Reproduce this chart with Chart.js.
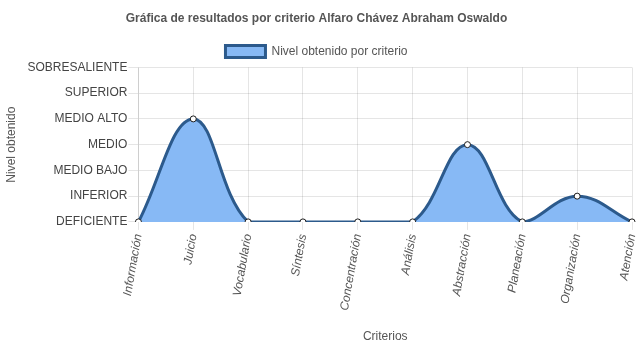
<!DOCTYPE html>
<html>
<head>
<meta charset="utf-8">
<script src="https://cdn.jsdelivr.net/npm/chart.js@4/dist/chart.umd.min.js"></script>
<style>
  html, body { margin: 0; padding: 0; background: #fff; }
  #wrap { width: 637px; height: 348px; }
</style>
</head>
<body>
<div id="wrap"><canvas id="grafica"></canvas></div>
<script>
// Criterios evaluados y nivel obtenido (0 = DEFICIENTE ... 6 = SOBRESALIENTE)
const criterios = ['Información', 'Juicio', 'Vocabulario', 'Síntesis', 'Concentración',
                   'Análisis', 'Abstracción', 'Planeación', 'Organización', 'Atención'];
const niveles = [0, 4, 0, 0, 0, 0, 3, 0, 1, 0];
const etiquetasNivel = ['DEFICIENTE', 'INFERIOR', 'MEDIO BAJO', 'MEDIO', 'MEDIO ALTO',
                        'SUPERIOR', 'SOBRESALIENTE'];

Chart.defaults.font.family = "'Liberation Sans', Arial, sans-serif";
Chart.defaults.font.size = 12;
Chart.defaults.color = '#666';

new Chart(document.getElementById('grafica'), {
  type: 'line',
  data: {
    labels: criterios,
    datasets: [{
      label: 'Nivel obtenido por criterio',
      data: niveles,
      fill: true,
      backgroundColor: 'rgba(135,185,245,1)',
      borderColor: 'rgb(44,90,140)',
      borderWidth: 3,
      tension: 0.4,
      pointRadius: 3,
      pointBackgroundColor: '#fff',
      pointBorderColor: 'rgb(30,30,30)',
      pointBorderWidth: 1
    }]
  },
  options: {
    responsive: true,
    maintainAspectRatio: false,
    animation: false,
    layout: { padding: { left: 0, right: 4, top: 0, bottom: 0 } },
    plugins: {
      title: {
        display: true,
        text: 'Gráfica de resultados por criterio Alfaro Chávez Abraham Oswaldo',
        font: { size: 12, weight: 'bold' },
        color: '#555',
        padding: { top: 11, bottom: 9 }
      },
      legend: {
        labels: { boxWidth: 40, boxHeight: 12, color: '#555', padding: 11 }
      },
      tooltip: { enabled: false }
    },
    scales: {
      x: {
        title: { display: true, text: 'Criterios', color: '#555', padding: { top: 15 } },
        grid: { color: 'rgba(0,0,0,0.1)' },
        ticks: {
          minRotation: 80,
          maxRotation: 80,
          font: { style: 'italic' },
          color: '#555'
        },
        // let the last point sit near the right edge
        afterFit: scale => { scale.paddingRight = 0; }
      },
      y: {
        min: 0,
        max: 6,
        title: { display: true, text: 'Nivel obtenido', color: '#555', padding: { top: 4, bottom: 8 } },
        grid: { color: 'rgba(0,0,0,0.1)', tickLength: 10 },
        ticks: {
          stepSize: 1,
          padding: 1,
          color: '#444',
          font: { size: 12 },
          callback: v => etiquetasNivel[v]
        }
      }
    }
  }
});
</script>
</body>
</html>
